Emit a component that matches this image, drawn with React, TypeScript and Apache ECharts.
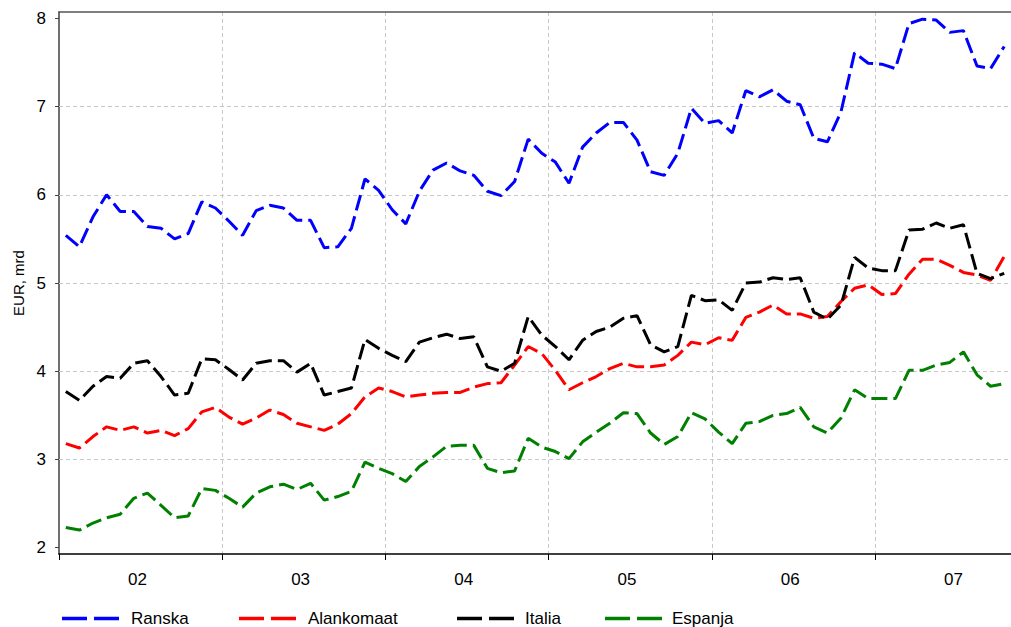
import React, { useEffect, useRef } from "react";
import * as echarts from "echarts";

// Monthly categories, Jan 2002 .. Oct 2007
const startYear = 2002;
const endYear = 2007;
const lastMonthOfLastYear = 10;
const months: string[] = [];
for (let y = startYear; y <= endYear; y++) {
  const mEnd = y === endYear ? lastMonthOfLastYear : 12;
  for (let m = 1; m <= mEnd; m++) months.push(`${y}-${m < 10 ? "0" + m : m}`);
}

const yearLabels = ["02", "03", "04", "05", "06", "07"];
const yTickValues = [2, 3, 4, 5, 6, 7, 8];
const yGridValues = [3, 4, 5, 6, 7];

const ranska = [
  5.54, 5.41, 5.75, 6.0, 5.81, 5.81, 5.64, 5.62, 5.5, 5.56, 5.92, 5.85,
  5.7, 5.54, 5.82, 5.88, 5.85, 5.71, 5.71, 5.4, 5.41, 5.62, 6.18, 6.05,
  5.83, 5.67, 6.04, 6.28, 6.36, 6.27, 6.22, 6.04, 5.99, 6.15, 6.63, 6.47,
  6.37, 6.13, 6.54, 6.7, 6.82, 6.82, 6.62, 6.26, 6.22, 6.47, 6.98, 6.81,
  6.84, 6.7, 7.18, 7.11, 7.19, 7.06, 7.02, 6.64, 6.6, 6.94, 7.61, 7.49,
  7.48, 7.43, 7.94, 7.99, 7.98, 7.84, 7.86, 7.46, 7.43, 7.68,
];
const alankomaat = [
  3.18, 3.13, 3.26, 3.37, 3.33, 3.37, 3.3, 3.33, 3.27, 3.35, 3.54, 3.59,
  3.48, 3.4, 3.47, 3.56, 3.51, 3.41, 3.37, 3.33, 3.4, 3.52, 3.71, 3.81,
  3.77, 3.71, 3.73, 3.75, 3.76, 3.76, 3.82, 3.86, 3.87, 4.07, 4.28, 4.2,
  4.01, 3.79, 3.87, 3.94, 4.03, 4.09, 4.05, 4.05, 4.07, 4.18, 4.33, 4.3,
  4.38, 4.35, 4.61, 4.67, 4.75, 4.65, 4.65, 4.6, 4.62, 4.79, 4.94, 4.98,
  4.87, 4.88, 5.1, 5.27, 5.27, 5.2, 5.12, 5.09, 5.03, 5.3,
];
const italia = [
  3.77, 3.67, 3.83, 3.94, 3.92, 4.09, 4.12, 3.94, 3.73, 3.75, 4.14, 4.13,
  4.02, 3.9, 4.09, 4.12, 4.12, 3.99, 4.09, 3.73, 3.77, 3.81, 4.36, 4.26,
  4.18, 4.11, 4.33, 4.38, 4.42, 4.37, 4.39, 4.05, 4.0, 4.09, 4.62, 4.41,
  4.28, 4.13, 4.35, 4.45, 4.5, 4.6, 4.63, 4.3, 4.22, 4.28, 4.86, 4.8,
  4.81, 4.69, 5.0, 5.01, 5.06, 5.04, 5.06, 4.67, 4.59, 4.75, 5.29, 5.17,
  5.14, 5.14, 5.6, 5.61, 5.68, 5.62, 5.66, 5.11, 5.05, 5.11,
];
const espanja = [
  2.23, 2.2, 2.28, 2.34, 2.38, 2.56, 2.62, 2.48, 2.34, 2.36, 2.67, 2.65,
  2.56, 2.46, 2.62, 2.69, 2.72, 2.66, 2.73, 2.54, 2.58, 2.64, 2.97, 2.9,
  2.84, 2.75, 2.92, 3.03, 3.15, 3.16, 3.16, 2.9, 2.85, 2.87, 3.24, 3.14,
  3.09, 3.01, 3.2, 3.31, 3.41, 3.53, 3.52, 3.3, 3.17, 3.26, 3.53, 3.46,
  3.31, 3.18, 3.41, 3.43, 3.5, 3.52, 3.59, 3.37, 3.3, 3.47, 3.79, 3.69,
  3.69, 3.69, 4.01, 4.01, 4.07, 4.1, 4.22, 3.96, 3.83, 3.86,
];

const seriesNames = ["Ranska", "Alankomaat", "Italia", "Espanja"];
const seriesColors = ["#0000FF", "#FF0000", "#000000", "#008000"];
const seriesData = [ranska, alankomaat, italia, espanja];

const FONT = "'Liberation Sans', Arial, sans-serif";

export default function App() {
  const ref = useRef<HTMLDivElement>(null);
  useEffect(() => {
    if (!ref.current) return;
    const chart = echarts.init(ref.current, null, { renderer: "svg" });

    const legendIconX = [62, 239, 457, 605];
    const legendTextX = [131, 308, 525, 672];
    const legendY = 618.5;
    const legendGraphics: any[] = [];
    seriesNames.forEach((name, i) => {
      legendGraphics.push({
        type: "line",
        shape: { x1: legendIconX[i], y1: legendY, x2: legendIconX[i] + 57, y2: legendY },
        style: { stroke: seriesColors[i], lineWidth: 3.5, lineDash: [25, 7] },
      });
      legendGraphics.push({
        type: "text",
        x: legendTextX[i],
        y: legendY,
        style: {
          text: name,
          fill: "#000",
          font: `17px ${FONT}`,
          verticalAlign: "middle",
          align: "left",
        },
      });
    });

    const option: any = {
      animation: false,
      backgroundColor: "#ffffff",
      textStyle: { fontFamily: FONT },
      grid: [
        { left: 59, right: 0, top: 12, bottom: 73 },
        { left: 59, right: 0, top: 18.3, bottom: 79.3 },
      ],
      xAxis: [
        {
          gridIndex: 0,
          type: "category",
          data: months,
          boundaryGap: true,
          position: "bottom",
          axisLine: { show: true, lineStyle: { color: "#000", width: 1.5 } },
          axisTick: {
            show: true,
            length: 6,
            interval: (i: number) => i % 12 === 0,
            lineStyle: { color: "#000", width: 1 },
          },
          axisLabel: {
            show: true,
            interval: (i: number) => i % 12 === 6,
            formatter: (_v: string, i: number) => yearLabels[Math.floor(i / 12)],
            fontSize: 17,
            color: "#000",
            margin: 17,
            padding: [0, 20, 0, 0],
            fontFamily: FONT,
          },
          splitLine: {
            show: true,
            interval: (i: number) => i % 12 === 0 && i > 0,
            lineStyle: { color: "#c8c8c8", type: [4, 3], width: 1 },
          },
        },
        {
          gridIndex: 0,
          type: "category",
          data: months,
          position: "top",
          axisLine: { show: true, lineStyle: { color: "#555", width: 1.5 } },
          axisTick: { show: false },
          axisLabel: { show: false },
          splitLine: { show: false },
        },
        {
          gridIndex: 1,
          type: "value",
          show: false,
        },
      ],
      yAxis: [
        {
          gridIndex: 0,
          type: "value",
          min: 1.929,
          max: 8.071,
          axisLine: { show: true, lineStyle: { color: "#404040", width: 1.5 } },
          axisTick: { show: false },
          axisLabel: { show: false },
          splitLine: { show: false },
        },
        {
          gridIndex: 1,
          type: "value",
          min: yTickValues[0],
          max: yTickValues[yTickValues.length - 1],
          interval: 1,
          name: "EUR, mrd",
          nameLocation: "middle",
          nameGap: 33,
          nameTextStyle: { fontSize: 15, color: "#000", fontFamily: FONT },
          axisLine: { show: false },
          axisTick: {
            show: true,
            length: 4,
            lineStyle: { color: "#404040", width: 1 },
          },
          axisLabel: {
            fontSize: 17,
            color: "#000",
            margin: 13,
            fontFamily: FONT,
          },
          splitLine: { show: false },
        },
      ],
      series: seriesNames.map((name, i) => ({
        name,
        type: "line",
        xAxisIndex: 0,
        yAxisIndex: 0,
        data: seriesData[i],
        symbol: "none",
        color: seriesColors[i],
        lineStyle: { color: seriesColors[i], width: 3, type: [16, 6] },
        z: 3,
        ...(i === 0
          ? {
              markLine: {
                silent: true,
                symbol: "none",
                label: { show: false },
                lineStyle: { color: "#c8c8c8", type: [4, 3], width: 1 },
                data: yGridValues.map((v) => ({ yAxis: v })),
                z: 1,
              },
            }
          : {}),
      })),
      graphic: legendGraphics,
    };
    chart.setOption(option);
    return () => chart.dispose();
  }, []);
  return (
    <div
      ref={ref}
      style={{ position: "fixed", left: 0, top: 0, width: 1011, height: 627 }}
    />
  );
}
